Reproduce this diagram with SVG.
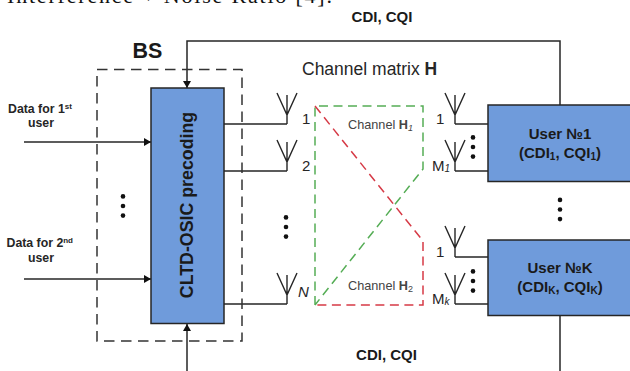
<svg xmlns="http://www.w3.org/2000/svg" width="630" height="371" viewBox="0 0 630 371">
<style>
text{font-family:"Liberation Sans",Arial,sans-serif;fill:#1a1a1a}
.b{font-weight:bold}
.n{font-weight:bold;font-size:15px;text-anchor:middle}
.s{font-size:12.3px;font-weight:bold;fill:#262626}
.p{font-size:15px;fill:#262626}
.c{font-size:12.7px;fill:#444}
.l{fill:none;stroke:#262626;stroke-width:1.5}
.t{fill:none;stroke:#262626;stroke-width:1.4}
.box{fill:#6f9bdb;stroke:#262626;stroke-width:1.5}
.g{fill:none;stroke:#55ad55;stroke-width:1.5;stroke-dasharray:9 5.5}
.r{fill:none;stroke:#d63a46;stroke-width:1.5;stroke-dasharray:9 5.5}
.d{fill:#111}
</style>
<defs>
<marker id="a" markerUnits="userSpaceOnUse" markerWidth="8" markerHeight="8" refX="7" refY="4" orient="auto"><path d="M0 0L7 4L0 8z" fill="#111"/></marker>
<g id="ant"><path class="t" d="M0 0V-29M-10 -31L0 -9L10 -31"/></g>
<g id="dots"><circle class="d" cx="0" cy="-9.6" r="2.3"/><circle class="d" cx="0" cy="0" r="2.3"/><circle class="d" cx="0" cy="9.6" r="2.3"/></g>
</defs>
<text x="7" y="3" font-size="22" textLength="325" lengthAdjust="spacing" style="font-family:'Liberation Serif',serif;fill:#111">Interference + Noise Ratio [4].</text>
<g id="connectors">
<path class="l" d="M560 105V41H187V88" marker-end="url(#a)"/>
<path class="l" d="M560 315V371"/>
<path class="l" d="M187 371V324" marker-end="url(#a)"/>
<path class="l" d="M24 142H151" marker-end="url(#a)"/>
<path class="l" d="M24 279H151" marker-end="url(#a)"/>
<path class="l" d="M224 124H287M224 171H287M224 304H287"/>
<path class="l" d="M455 124H488M455 171H488M455 257H488M455 304H488"/>
<path class="g" d="M315 305V106H423V169L315 305"/>
<path class="r" d="M315 106L423 241V305H315"/>
</g>
<g id="bs"><rect x="97" y="69.500" width="145" height="271.500" fill="none" stroke="#333" stroke-width="1.5" stroke-dasharray="10.500 6.500"/>
<text x="132.500" y="58" class="b" font-size="21.500">BS</text></g>
<g id="precoder"><rect class="box" x="151" y="88" width="73" height="235.500"/>
<text class="b" font-size="17.800" text-anchor="middle" transform="translate(193 205) rotate(-90)">CLTD-OSIC precoding</text></g>
<g id="input1"><text class="s" x="8" y="113">Data for 1<tspan font-size="8" dy="-4">st</tspan></text><text class="s" x="41" y="127" text-anchor="middle">user</text></g>
<g id="input2"><text class="s" x="6.500" y="247">Data for 2<tspan font-size="8" dy="-4">nd</tspan></text><text class="s" x="41" y="262" text-anchor="middle">user</text></g>
<use href="#dots" x="123" y="206"/>
<g id="tx1"><use href="#ant" x="287" y="124"/><text class="p" x="302" y="124">1</text></g>
<g id="tx2"><use href="#ant" x="287" y="171"/><text class="p" x="302" y="171">2</text></g>
<use href="#dots" x="286" y="227"/>
<g id="txN"><use href="#ant" x="287" y="304"/><text class="p" x="298" y="297" font-style="italic">N</text></g>
<text x="302" y="75" font-size="17.500" style="fill:#262626">Channel matrix <tspan class="b">H</tspan></text>
<text class="c" x="348" y="129">Channel <tspan class="b">H</tspan><tspan font-size="9" font-style="italic" dy="2">1</tspan></text>
<text class="c" x="348" y="290">Channel <tspan class="b">H</tspan><tspan font-size="9" dy="2">2</tspan></text>
<g id="rx11"><use href="#ant" x="455" y="124"/><text class="p" x="436" y="124">1</text></g>
<g id="rx1M"><use href="#ant" x="455" y="171"/><text class="p" x="432" y="171">M<tspan font-size="10" font-style="italic" dy="1">1</tspan></text></g>
<use href="#dots" x="473" y="147"/>
<g id="user1"><rect class="box" x="488" y="105" width="143" height="76.500"/>
<text class="n" x="560" y="139">User №1</text><text class="n" x="560" y="158">(CDI<tspan font-size="10" dy="2">1</tspan><tspan dy="-2">, CQI</tspan><tspan font-size="10" dy="2">1</tspan><tspan dy="-2">)</tspan></text></g>
<use href="#dots" x="560" y="209.500"/>
<g id="rxK1"><use href="#ant" x="455" y="257"/><text class="p" x="436" y="257">1</text></g>
<g id="rxKM"><use href="#ant" x="455" y="304"/><text class="p" x="432" y="304">M<tspan font-size="10" font-style="italic" dy="1">k</tspan></text></g>
<use href="#dots" x="473" y="281"/>
<g id="userK"><rect class="box" x="488" y="240" width="143" height="75.500"/>
<text class="n" x="560" y="273">User №K</text><text class="n" x="560" y="292">(CDI<tspan font-size="10" dy="2">K</tspan><tspan dy="-2">, CQI</tspan><tspan font-size="10" dy="2">K</tspan><tspan dy="-2">)</tspan></text></g>
<text class="b" x="382" y="22" font-size="15" text-anchor="middle">CDI, CQI</text>
<text class="b" x="386.500" y="360" font-size="15" text-anchor="middle">CDI, CQI</text>
</svg>
